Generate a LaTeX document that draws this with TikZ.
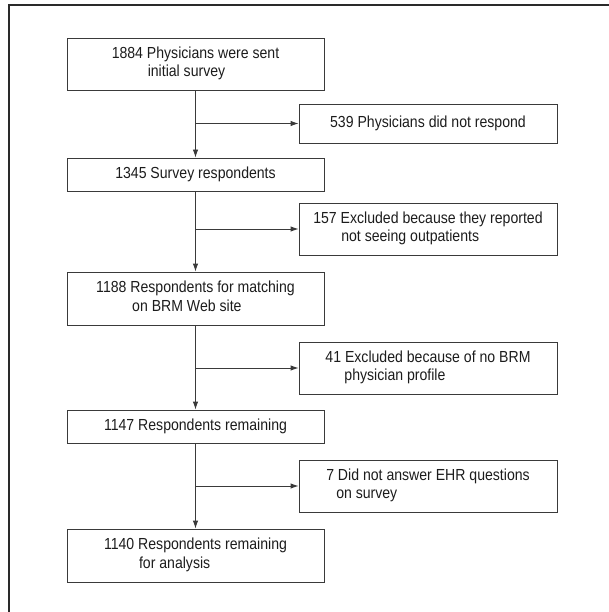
\documentclass[tikz,border=0pt]{standalone}
\usepackage{fontspec}
\setmainfont[FakeStretch=0.88]{Liberation Sans}
\usetikzlibrary{arrows.meta}
\definecolor{boxgray}{HTML}{3A3A3A}
\definecolor{framegray}{HTML}{2A2A2A}
\definecolor{txt}{HTML}{1C1C1C}
\newcommand{\twol}[3]{\begin{tabular}{@{}l@{}}#1\\\hspace*{#3}#2\end{tabular}}
\begin{document}
\begin{tikzpicture}[x=1pt,y=-1pt,
  box/.style={draw=boxgray, line width=0.9pt, minimum width=257pt, inner sep=0pt,
    text=txt, font=\fontsize{16}{18.5}\selectfont},
  rbox/.style={box, minimum width=258pt},
  conn/.style={draw=boxgray, line width=0.9pt},
  arr/.style={conn, -{Latex[length=8pt,width=5.5pt]}}]
\useasboundingbox (0,0) rectangle (608,612);
\draw[line width=1.6pt, framegray] (609,5) -- (9,5) -- (9,613);

\node[box, minimum height=52pt] (b1) at (195.5,64) {\twol{1884 Physicians were sent}{initial survey}{36pt}};
\node[rbox, minimum height=39pt] (r1) at (428,123.5) {539 Physicians did not respond};
\node[box, minimum height=33pt] (b2) at (195.5,174.5) {1345 Survey respondents};
\node[rbox, minimum height=52pt] (r2) at (428,229) {\twol{157 Excluded because they reported}{not seeing outpatients}{28pt}};
\node[box, minimum height=53pt] (b3) at (195.5,298.5) {\twol{1188 Respondents for matching}{on BRM Web site}{36pt}};
\node[rbox, minimum height=52pt] (r3) at (428,368) {\twol{41 Excluded because of no BRM}{physician profile}{19pt}};
\node[box, minimum height=33pt] (b4) at (195.5,426.5) {1147 Respondents remaining};
\node[rbox, minimum height=52pt] (r4) at (428,486) {\twol{7 Did not answer EHR questions}{on survey}{10pt}};
\node[box, minimum height=53pt] (b5) at (195.5,555.5) {\twol{1140 Respondents remaining}{for analysis}{35pt}};

\coordinate (j1) at (b1.south |- r1.west);
\coordinate (j2) at (b2.south |- r2.west);
\coordinate (j3) at (b3.south |- r3.west);
\coordinate (j4) at (b4.south |- r4.west);

\draw[arr] (b1.south) -- (b2.north);
\draw[arr] (b2.south) -- (b3.north);
\draw[arr] (b3.south) -- (b4.north);
\draw[arr] (b4.south) -- (b5.north);
\draw[arr] (j1) -- (r1.west);
\draw[arr] (j2) -- (r2.west);
\draw[arr] (j3) -- (r3.west);
\draw[arr] (j4) -- (r4.west);
\end{tikzpicture}
\end{document}
